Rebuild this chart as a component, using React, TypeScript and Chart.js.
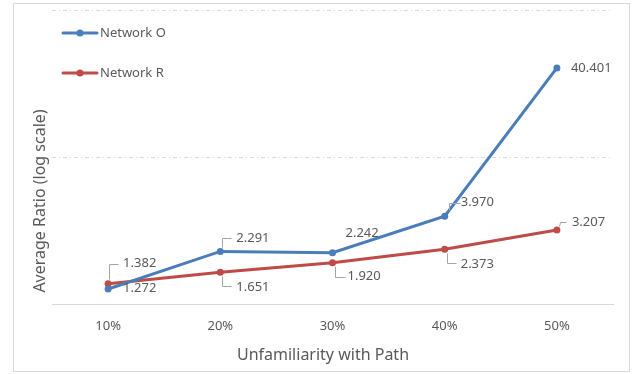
import React, { useEffect, useRef } from "react";
import { Chart, registerables } from "chart.js";

Chart.register(...registerables);

const categories = ["10%", "20%", "30%", "40%", "50%"];
const networkO = [1.272, 2.291, 2.242, 3.97, 40.401];
const networkR = [1.382, 1.651, 1.92, 2.373, 3.207];
const seriesNames = ["Network O", "Network R"];
const yGridValues = [1, 10, 100];
const xTitle = "Unfamiliarity with Path";
const yTitle = "Average Ratio (log scale)";

const seriesColors = ["#4A7EBB", "#BE4B48"];
const textColor = "#595959";
const gridColor = "#D9D9D9";
const leaderColor = "#A6A6A6";
const FONT = "'Noto Sans', 'DejaVu Sans', sans-serif";

type Placement = { dx: number; dy: number; leader: number[][] | null };
const placementO: Placement[] = [
  { dx: 15, dy: -1, leader: null },
  { dx: 16, dy: -13, leader: [[2, -4], [2, -13], [11, -13]] },
  { dx: 13, dy: -19, leader: null },
  { dx: 16, dy: -14, leader: [[4, -6], [4, -13], [15, -13]] },
  { dx: 14, dy: 0, leader: null },
];
const placementR: Placement[] = [
  { dx: 15, dy: -20, leader: [[1, -5], [1, -20], [10, -20]] },
  { dx: 16, dy: 15, leader: [[2, 4], [2, 14], [11, 14]] },
  { dx: 15, dy: 14, leader: [[2, 3], [2, 14], [12, 14]] },
  { dx: 16, dy: 15, leader: [[2, 4], [2, 14], [11, 14]] },
  { dx: 15, dy: -8, leader: [[2, -4], [3, -8], [9, -8]] },
];
const placements = [placementO, placementR];

const decorPlugin = {
  id: "decor",
  beforeDraw(chart: any) {
    const ctx = chart.ctx;
    ctx.save();
    ctx.fillStyle = "#ffffff";
    ctx.fillRect(0, 0, chart.width, chart.height);
    ctx.strokeStyle = gridColor;
    ctx.lineWidth = 1;
    ctx.strokeRect(13.5, 3.5, 616, 368);
    ctx.restore();
  },
  afterDatasetsDraw(chart: any) {
    const ctx = chart.ctx;
    ctx.save();
    chart.data.datasets.forEach((ds: any, di: number) => {
      const meta = chart.getDatasetMeta(di);
      meta.data.forEach((pt: any, i: number) => {
        const p = placements[di][i];
        if (p.leader) {
          ctx.strokeStyle = leaderColor;
          ctx.lineWidth = 1;
          ctx.beginPath();
          p.leader.forEach((q, k) => {
            const x = Math.round(pt.x + q[0]) + 0.5;
            const y = Math.round(pt.y + q[1]) + 0.5;
            if (k === 0) ctx.moveTo(x, y);
            else ctx.lineTo(x, y);
          });
          ctx.stroke();
        }
        ctx.fillStyle = textColor;
        ctx.font = `13px ${FONT}`;
        ctx.textAlign = "left";
        ctx.textBaseline = "middle";
        ctx.fillText(Number(ds.data[i]).toFixed(3), pt.x + p.dx, pt.y + p.dy);
      });
    });
    ctx.restore();
  },
  afterDraw(chart: any) {
    const ctx = chart.ctx;
    const area = chart.chartArea;
    ctx.save();
    // legend
    seriesNames.forEach((name, i) => {
      const y = 33 + i * 40;
      ctx.strokeStyle = seriesColors[i];
      ctx.lineWidth = 3;
      ctx.lineCap = "round";
      ctx.beginPath();
      ctx.moveTo(area.left + 11, y);
      ctx.lineTo(area.left + 45, y);
      ctx.stroke();
      ctx.fillStyle = seriesColors[i];
      ctx.beginPath();
      ctx.arc(area.left + 28, y, 3.5, 0, Math.PI * 2);
      ctx.fill();
      ctx.fillStyle = textColor;
      ctx.font = `13px ${FONT}`;
      ctx.textAlign = "left";
      ctx.textBaseline = "middle";
      ctx.fillText(name, area.left + 48, y);
    });
    // axis titles
    ctx.fillStyle = textColor;
    ctx.font = `16px ${FONT}`;
    ctx.textAlign = "center";
    ctx.textBaseline = "middle";
    ctx.fillText(xTitle, 323, 355);
    ctx.translate(40, 201);
    ctx.rotate(-Math.PI / 2);
    ctx.fillText(yTitle, 0, 0);
    ctx.restore();
  },
};

export default function App() {
  const ref = useRef<HTMLCanvasElement | null>(null);
  useEffect(() => {
    document.body.style.margin = "0";
    if (!ref.current) return;
    const chart = new Chart(ref.current, {
      type: "line",
      data: {
        labels: categories,
        datasets: [
          {
            label: seriesNames[0],
            data: networkO,
            borderColor: seriesColors[0],
            backgroundColor: seriesColors[0],
            borderWidth: 3,
            pointRadius: 3.5,
            pointBorderWidth: 0,
            tension: 0,
          },
          {
            label: seriesNames[1],
            data: networkR,
            borderColor: seriesColors[1],
            backgroundColor: seriesColors[1],
            borderWidth: 3,
            pointRadius: 3.5,
            pointBorderWidth: 0,
            tension: 0,
          },
        ],
      },
      options: {
        animation: false,
        responsive: false,
        devicePixelRatio: 1,
        layout: { padding: { left: 52, right: 20, top: 10, bottom: 26 } },
        plugins: {
          legend: { display: false },
          tooltip: { enabled: false },
        },
        scales: {
          x: {
            offset: true,
            grid: { display: false, drawTicks: false },
            border: { display: true, color: gridColor, width: 1 },
            ticks: {
              color: textColor,
              font: { family: FONT, size: 13 },
              padding: 14,
            },
          },
          y: {
            type: "logarithmic",
            min: 1,
            max: 100,
            afterBuildTicks: (scale: any) => {
              scale.ticks = yGridValues.map((v) => ({ value: v }));
            },
            grid: {
              drawTicks: false,
              color: (c: any) => (c.tick && c.tick.value === 1 ? "rgba(0,0,0,0)" : gridColor),
              lineWidth: 1,
            },
            border: { display: false, dash: [4, 3, 1, 3] },
            ticks: { display: false },
          },
        },
      },
      plugins: [decorPlugin],
    } as any);
    return () => chart.destroy();
  }, []);
  return (
    <div style={{ width: 633, height: 374 }}>
      <canvas ref={ref} width={633} height={374} style={{ display: "block" }} />
    </div>
  );
}
